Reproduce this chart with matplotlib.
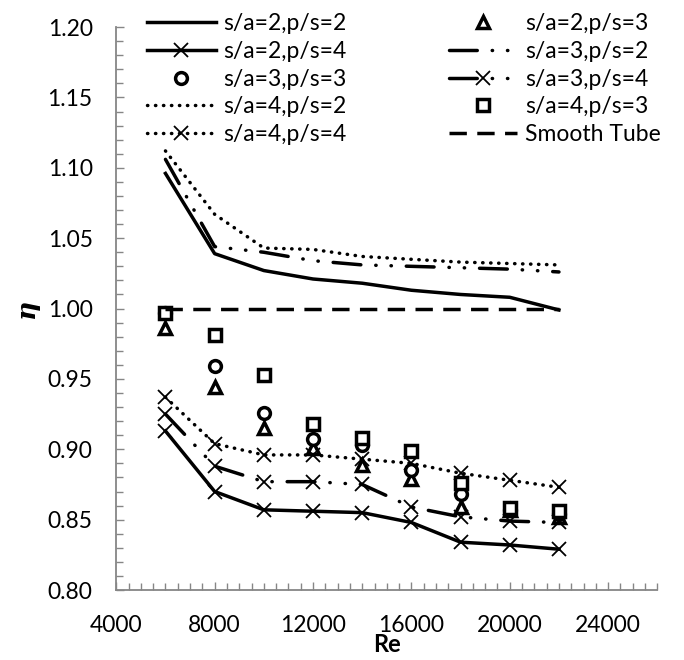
import numpy as np
import matplotlib
matplotlib.use("Agg")
import matplotlib.pyplot as plt
from matplotlib.ticker import MultipleLocator, FormatStrFormatter

# Reynolds numbers
re = [6000, 8000, 10000, 12000, 14000, 16000, 18000, 20000, 22000]

# efficiency eta for each case
s2_p2 = [1.096, 1.039, 1.027, 1.021, 1.018, 1.013, 1.010, 1.008, 0.999]
s2_p3 = [0.986, 0.944, 0.915, 0.901, 0.889, 0.879, 0.859, 0.857, 0.852]
s2_p4 = [0.913, 0.870, 0.857, 0.856, 0.855, 0.848, 0.834, 0.832, 0.829]
s3_p2 = [1.106, 1.044, 1.040, 1.034, 1.031, 1.030, 1.029, 1.028, 1.026]
s3_p3 = [0.997, 0.959, 0.926, 0.907, 0.903, 0.885, 0.868, 0.857, 0.854]
s3_p4 = [0.925, 0.888, 0.877, 0.877, 0.875, 0.859, 0.852, 0.849, 0.848]
s4_p2 = [1.112, 1.067, 1.043, 1.042, 1.037, 1.035, 1.033, 1.032, 1.031]
s4_p3 = [0.997, 0.981, 0.953, 0.918, 0.908, 0.899, 0.876, 0.858, 0.856]
s4_p4 = [0.937, 0.904, 0.896, 0.896, 0.893, 0.890, 0.883, 0.878, 0.873]
smooth = [1.0, 1.0, 1.0, 1.0, 1.0, 1.0, 1.0, 1.0, 1.0]

plt.rcParams['font.family'] = ['Lato', 'DejaVu Sans']

fig = plt.figure(figsize=(6.84, 6.60), dpi=100)
ax = fig.add_axes([0.170, 0.106, 0.791, 0.853])

lw = 2.5
dot = (0.1, 2.2)
dashdotdot = (8, 4.3, 0.1, 4.3, 0.1, 4.3)
mk = dict(mfc='white', mec='black', mew=2.5, ms=8.5, ls='none')
xk = dict(marker='x', ms=10.5, mew=1.3, mec='black')

h22, = ax.plot(re, s2_p2, color='black', lw=lw)
h23, = ax.plot(re, s2_p3, marker='^', **mk)
h24, = ax.plot(re, s2_p4, color='black', lw=lw, **xk)
h32, = ax.plot(re, s3_p2, color='black', lw=lw, dashes=dashdotdot,
               dash_capstyle='round')
h33, = ax.plot(re, s3_p3, marker='o', **mk)
h34, = ax.plot(re, s3_p4, color='black', lw=lw, dashes=dashdotdot,
               dash_capstyle='round', **xk)
h42, = ax.plot(re, s4_p2, color='black', lw=lw, dashes=dot,
               dash_capstyle='round')
h43, = ax.plot(re, s4_p3, marker='s', **mk)
h44, = ax.plot(re, s4_p4, color='black', lw=lw, dashes=dot,
               dash_capstyle='round', **xk)
hs, = ax.plot(re, smooth, color='black', lw=lw, dashes=(5, 3))

ax.set_xlim(4000, 26000)
ax.set_ylim(0.80, 1.20)
ax.xaxis.set_major_locator(MultipleLocator(4000))
ax.xaxis.set_minor_locator(MultipleLocator(500))
ax.yaxis.set_major_locator(MultipleLocator(0.05))
ax.yaxis.set_minor_locator(MultipleLocator(0.01))
ax.yaxis.set_major_formatter(FormatStrFormatter('%.2f'))

for s in ['top', 'right']:
    ax.spines[s].set_visible(False)
for s in ['left', 'bottom']:
    ax.spines[s].set_color('#868686')
    ax.spines[s].set_linewidth(1.3)

ax.tick_params(which='both', direction='in', color='#868686', width=1,
               labelsize=16.5, labelcolor='black')
ax.tick_params(which='major', length=6)
ax.tick_params(which='minor', length=5)
ax.tick_params(axis='y', which='major', pad=17)
ax.tick_params(axis='x', which='major', pad=18)

ax.set_xlabel('Re', fontsize=17, fontweight='bold', labelpad=-2)
ax.set_ylabel('η', fontsize=19, fontweight='bold', style='italic',
              family='DejaVu Serif', labelpad=6)

handles = [h22, h24, h33, h42, h44, h23, h32, h34, h43, hs]
labels = ['s/a=2,p/s=2', 's/a=2,p/s=4', 's/a=3,p/s=3', 's/a=4,p/s=2',
          's/a=4,p/s=4', 's/a=2,p/s=3', 's/a=3,p/s=2', 's/a=3,p/s=4',
          's/a=4,p/s=3', 'Smooth Tube']
fig.legend(handles, labels, ncol=2, loc='upper left',
           bbox_to_anchor=(0.198, 0.998), frameon=False, fontsize=16.5,
           handlelength=3.0, handletextpad=0.34, columnspacing=4.45,
           labelspacing=0.3, borderpad=0, numpoints=1)

fig.savefig('out.png', dpi=100)
